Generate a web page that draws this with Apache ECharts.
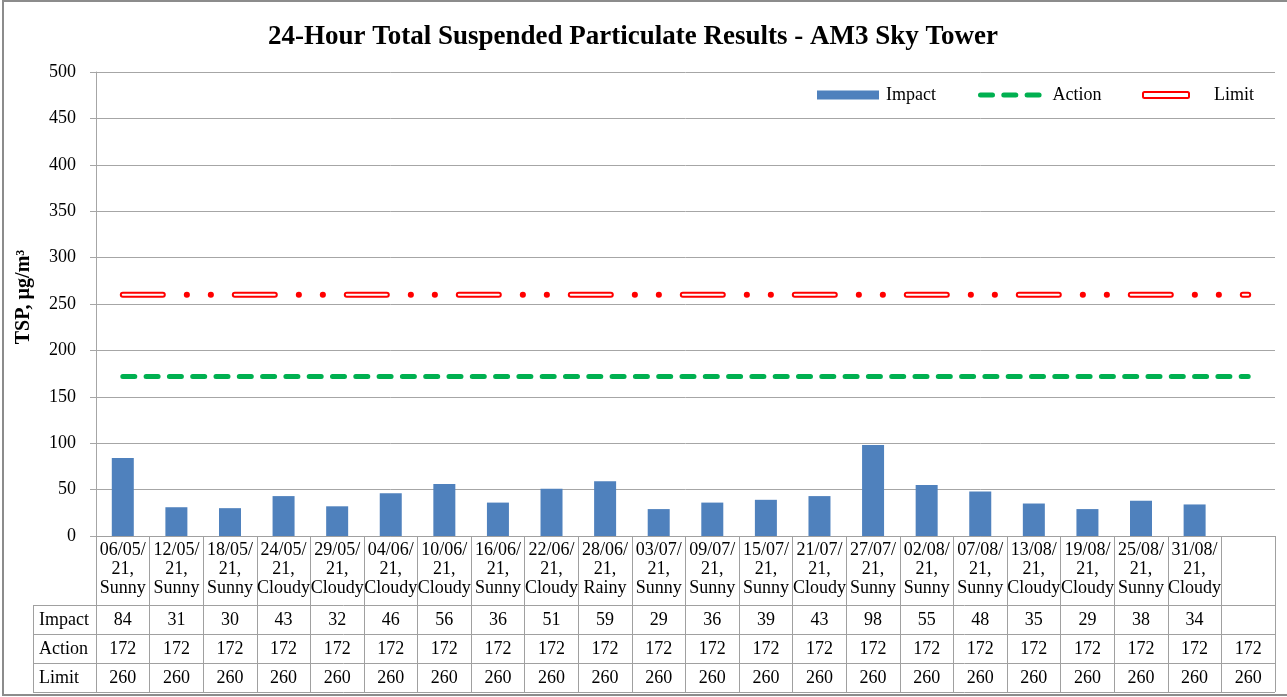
<!DOCTYPE html>
<html>
<head>
<meta charset="utf-8">
<script src="https://cdn.jsdelivr.net/npm/echarts@6/dist/echarts.min.js"></script>
<style>
  html, body { margin: 0; padding: 0; background: #fff; }
  #chart { width: 1287px; height: 697px; }
</style>
</head>
<body>
<div id="chart"></div>
<script>
// sampling dates and weather (last column is empty in the source table)
const dates = ['06/05/21', '12/05/21', '18/05/21', '24/05/21', '29/05/21', '04/06/21', '10/06/21',
    '16/06/21', '22/06/21', '28/06/21', '03/07/21', '09/07/21', '15/07/21', '21/07/21', '27/07/21',
    '02/08/21', '07/08/21', '13/08/21', '19/08/21', '25/08/21', '31/08/21', ''];
const weather = ['Sunny', 'Sunny', 'Sunny', 'Cloudy', 'Cloudy', 'Cloudy', 'Cloudy',
    'Sunny', 'Cloudy', 'Rainy', 'Sunny', 'Sunny', 'Sunny', 'Cloudy', 'Sunny',
    'Sunny', 'Sunny', 'Cloudy', 'Cloudy', 'Sunny', 'Cloudy', ''];

const impact = [84, 31, 30, 43, 32, 46, 56, 36, 51, 59, 29, 36, 39, 43, 98, 55, 48, 35, 29, 38, 34, null];
const action = [172, 172, 172, 172, 172, 172, 172, 172, 172, 172, 172, 172, 172, 172, 172, 172, 172, 172, 172, 172, 172, 172];
const limit = [260, 260, 260, 260, 260, 260, 260, 260, 260, 260, 260, 260, 260, 260, 260, 260, 260, 260, 260, 260, 260, 260];

const yTicks = { min: 0, max: 500, interval: 50 };

const FONT = '"Liberation Serif", "Times New Roman", serif';
const FS = 18;
const GRID_LINE = '#a6a6a6';
const TABLE_LINE = '#a0a0a0';

const actionDash = { color: '#00b050', width: 5, cap: 'round', type: [12, 11.3] };

const categories = dates.map((d, i) => d ? d.slice(0, 6) + '\n' + d.slice(6) + ',\n' + weather[i] : '');

// one hidden axis per table row, just to place the values under their columns
const tableRow = (name, values, offset) => ({
    type: 'category',
    gridIndex: 0,
    position: 'bottom',
    offset: offset,
    data: values.map(v => v == null ? '' : String(v)),
    axisLine: { show: false },
    axisTick: { show: false },
    axisLabel: { interval: 0, margin: 0, verticalAlign: 'middle', fontFamily: FONT, fontSize: FS, color: '#000' },
    name: name,
    nameLocation: 'start',
    nameGap: 57,
    nameTextStyle: { fontFamily: FONT, fontSize: FS, color: '#000', align: 'left', verticalAlign: 'middle' }
});

const legendText = pad => ({ fontFamily: FONT, fontSize: FS, color: '#000', padding: [0, 0, 0, pad] });

const chart = echarts.init(document.getElementById('chart'));

chart.setOption({
    animation: false,
    title: {
        text: '24-Hour Total Suspended Particulate Results - AM3 Sky Tower',
        left: 268,
        top: 24,
        padding: 0,
        textStyle: { fontFamily: FONT, fontSize: 27, fontWeight: 'bold', color: '#000' }
    },
    legend: [
        {
            data: [{ name: 'Impact', icon: 'rect' }],
            left: 817, top: 86, padding: 0, itemWidth: 62, itemHeight: 9,
            textStyle: legendText(2)
        },
        {
            data: [{ name: 'Action', itemStyle: { opacity: 0 }, lineStyle: actionDash }],
            left: 978, top: 86, padding: 0, itemWidth: 64, itemHeight: 9,
            textStyle: legendText(3)
        },
        {
            data: [{ name: 'Limit', icon: 'roundRect', itemStyle: { color: '#fff', borderColor: '#ff0000', borderWidth: 2 } }],
            left: 1142, top: 86, padding: 0, itemWidth: 46, itemHeight: 6,
            textStyle: legendText(20)
        }
    ],
    grid: { left: 96, right: 12, top: 72, bottom: 161 },
    xAxis: [
        {
            type: 'category',
            data: categories,
            axisLine: { lineStyle: { color: TABLE_LINE } },
            axisTick: { show: true, interval: 0, length: 156, lineStyle: { color: TABLE_LINE } },
            axisLabel: { interval: 0, margin: 5, lineHeight: 19, fontFamily: FONT, fontSize: FS, color: '#000' }
        },
        tableRow('Impact', impact, 84),
        tableRow('Action', action, 113),
        tableRow('Limit', limit, 142)
    ],
    yAxis: {
        type: 'value',
        min: yTicks.min,
        max: yTicks.max,
        interval: yTicks.interval,
        name: 'TSP, µg/m³',
        nameLocation: 'middle',
        nameGap: 62,
        nameRotate: 90,
        nameTextStyle: { fontFamily: FONT, fontSize: 20, fontWeight: 'bold', color: '#000', padding: [0, 0, 0, 14] },
        axisLine: { show: true, lineStyle: { color: GRID_LINE } },
        axisTick: { show: true, length: 6, lineStyle: { color: GRID_LINE } },
        axisLabel: { margin: 20, fontFamily: FONT, fontSize: FS, color: '#000' },
        splitLine: { lineStyle: { color: GRID_LINE } }
    },
    graphic: [
        // chart frame
        { type: 'rect', shape: { x: 3, y: 1, width: 1300, height: 694 }, style: { fill: null, stroke: '#8c8c8c', lineWidth: 2 }, silent: true },
        // data table row borders and label column
        { type: 'line', shape: { x1: 33, y1: 605.5, x2: 1275, y2: 605.5 }, style: { stroke: TABLE_LINE, lineWidth: 1 } },
        { type: 'line', shape: { x1: 33, y1: 634.5, x2: 1275, y2: 634.5 }, style: { stroke: TABLE_LINE, lineWidth: 1 } },
        { type: 'line', shape: { x1: 33, y1: 663.5, x2: 1275, y2: 663.5 }, style: { stroke: TABLE_LINE, lineWidth: 1 } },
        { type: 'line', shape: { x1: 33, y1: 692.5, x2: 1275, y2: 692.5 }, style: { stroke: TABLE_LINE, lineWidth: 1 } },
        { type: 'line', shape: { x1: 33.5, y1: 605, x2: 33.5, y2: 693 }, style: { stroke: TABLE_LINE, lineWidth: 1 } }
    ],
    series: [
        {
            name: 'Impact',
            type: 'bar',
            data: impact,
            barWidth: 22,
            itemStyle: { color: '#4f81bd' }
        },
        {
            name: 'Action',
            type: 'line',
            data: action,
            symbol: 'none',
            lineStyle: actionDash
        },
        {
            name: 'Limit',
            type: 'line',
            data: limit,
            symbol: 'none',
            z: 3,
            lineStyle: { color: '#ff0000', width: 6, cap: 'round', type: [40, 24, 0.1, 23.9, 0.1, 23.9] }
        },
        {
            // white core of the outlined limit dashes
            name: 'Limit core',
            type: 'line',
            data: limit,
            symbol: 'none',
            z: 4,
            lineStyle: { color: '#ffffff', width: 2, cap: 'round', type: [40, 72] }
        }
    ]
});
</script>
</body>
</html>
